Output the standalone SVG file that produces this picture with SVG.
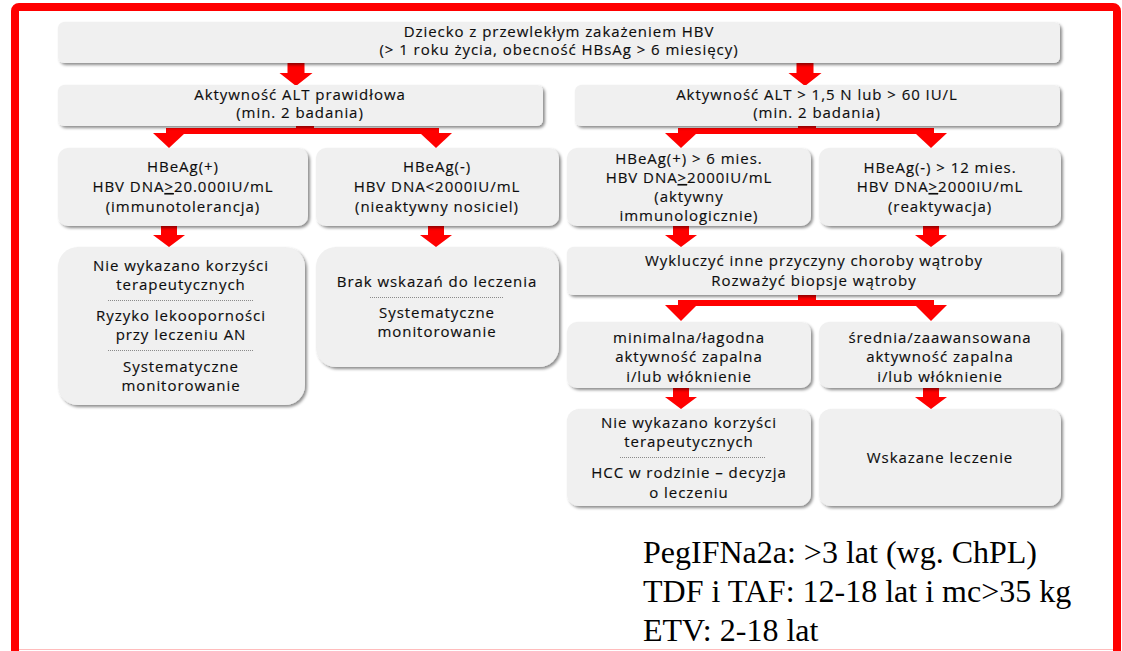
<svg xmlns="http://www.w3.org/2000/svg" width="1122" height="651" viewBox="0 0 1122 651">
<defs>
<filter id="sh" x="-5%" y="-10%" width="112%" height="130%">
<feDropShadow dx="2" dy="2" stdDeviation="1.5" flood-color="#000" flood-opacity="0.45"/>
</filter>
</defs>
<style>
.box{fill:#f0f0f0;filter:url(#sh)}
.t{font-family:"Open Sans",sans-serif;font-size:15px;letter-spacing:0.95px;fill:#0d0d0d;text-anchor:middle;stroke:#0d0d0d;stroke-width:0.15px}
.ar{fill:#ff0000}
.sep{stroke:#8a8a8a;stroke-width:1;stroke-dasharray:1 1}
.note{font-family:"Liberation Serif",serif;font-size:32px;fill:#000}
.u{text-decoration:underline}
</style>
<rect x="0" y="0" width="1122" height="651" fill="#fff"/>
<rect x="15" y="7" width="1102" height="670" rx="4" fill="#fff" stroke="#ff0000" stroke-width="8"/>
<line x1="19" y1="649.5" x2="1113" y2="649.5" stroke="#ffbcbc" stroke-width="1"/>

<g id="connectors">
<path class="ar" d="M287.5,63 H304.5 V73 H312.5 L296,86 L279.5,73 H287.5 Z"/>
<path class="ar" d="M796.5,63 H813.5 V73 H821.5 L805,86 L788.5,73 H796.5 Z"/>
<rect class="ar" x="296" y="126" width="18" height="8"/>
<rect class="ar" x="166" y="128" width="273" height="6"/>
<path class="ar" d="M153,133 H185 L169,148 Z"/>
<path class="ar" d="M420,133 H452 L436,148 Z"/>
<rect class="ar" x="798" y="126" width="18" height="8"/>
<rect class="ar" x="678" y="128" width="256" height="6"/>
<path class="ar" d="M665,133 H697 L681,148 Z"/>
<path class="ar" d="M915,133 H947 L931,148 Z"/>
<path class="ar" d="M161,226 H177 V235 H185 L169,247 L153,235 H161 Z"/>
<path class="ar" d="M428,226 H444 V235 H452 L436,247 L420,235 H428 Z"/>
<path class="ar" d="M673,226 H689 V235 H697 L681,247 L665,235 H673 Z"/>
<path class="ar" d="M923,226 H939 V235 H947 L931,247 L915,235 H923 Z"/>
<rect class="ar" x="798" y="295" width="18" height="8"/>
<rect class="ar" x="678" y="300" width="256" height="6"/>
<path class="ar" d="M665,305 H697 L681,321 Z"/>
<path class="ar" d="M915,305 H947 L931,321 Z"/>
<path class="ar" d="M673,388 H689 V397 H697 L681,409 L665,397 H673 Z"/>
<path class="ar" d="M923,388 H939 V397 H947 L931,409 L915,397 H923 Z"/>
</g>

<g id="n-start">
<rect class="box" x="58" y="22" width="1002" height="41" rx="6"/>
<text class="t" x="559" y="37">Dziecko z przewlekłym zakażeniem HBV</text>
<text class="t" x="559" y="55">(&gt; 1 roku życia, obecność HBsAg &gt; 6 miesięcy)</text>
</g>
<g id="n-alt-normal">
<rect class="box" x="58" y="85" width="485" height="41" rx="6"/>
<text class="t" x="300" y="100">Aktywność ALT prawidłowa</text>
<text class="t" x="300" y="118">(min. 2 badania)</text>
</g>
<g id="n-alt-high">
<rect class="box" x="575" y="85" width="485" height="41" rx="6"/>
<text class="t" x="817" y="100">Aktywność ALT &gt; 1,5 N lub &gt; 60 IU/L</text>
<text class="t" x="817" y="118">(min. 2 badania)</text>
</g>
<g id="n-immunotol">
<rect class="box" x="58" y="148" width="250" height="78" rx="10"/>
<text class="t" x="183" y="172">HBeAg(+)</text>
<text class="t" x="183" y="192">HBV DNA<tspan class="u">&gt;</tspan>20.000IU/mL</text>
<text class="t" x="183" y="212">(immunotolerancja)</text>
</g>
<g id="n-nosiciel">
<rect class="box" x="316" y="148" width="243" height="78" rx="10"/>
<text class="t" x="437" y="172">HBeAg(-)</text>
<text class="t" x="437" y="192">HBV DNA&lt;2000IU/mL</text>
<text class="t" x="437" y="212">(nieaktywny nosiciel)</text>
</g>
<g id="n-aktywny">
<rect class="box" x="567" y="148" width="244" height="78" rx="10"/>
<text class="t" x="689" y="164">HBeAg(+) &gt; 6 mies.</text>
<text class="t" x="689" y="183">HBV DNA<tspan class="u">&gt;</tspan>2000IU/mL</text>
<text class="t" x="689" y="202">(aktywny</text>
<text class="t" x="689" y="221">immunologicznie)</text>
</g>
<g id="n-reaktywacja">
<rect class="box" x="819" y="148" width="242" height="78" rx="10"/>
<text class="t" x="940" y="173">HBeAg(-) &gt; 12 mies.</text>
<text class="t" x="940" y="192">HBV DNA<tspan class="u">&gt;</tspan>2000IU/mL</text>
<text class="t" x="940" y="212">(reaktywacja)</text>
</g>
<g id="n-brak-korzysci-1">
<rect class="box" x="58" y="247" width="247" height="158" rx="20"/>
<text class="t" x="181" y="271">Nie wykazano korzyści</text>
<text class="t" x="181" y="290">terapeutycznych</text>
<line class="sep" x1="108" y1="300.5" x2="253" y2="300.5"/>
<text class="t" x="181" y="321">Ryzyko lekooporności</text>
<text class="t" x="181" y="340">przy leczeniu AN</text>
<line class="sep" x1="108" y1="350.5" x2="253" y2="350.5"/>
<text class="t" x="181" y="372">Systematyczne</text>
<text class="t" x="181" y="391">monitorowanie</text>
</g>
<g id="n-brak-wskazan">
<rect class="box" x="316" y="247" width="243" height="120" rx="20"/>
<text class="t" x="437" y="287">Brak wskazań do leczenia</text>
<line class="sep" x1="370" y1="297.5" x2="503" y2="297.5"/>
<text class="t" x="437" y="318">Systematyczne</text>
<text class="t" x="437" y="337">monitorowanie</text>
</g>
<g id="n-wykluczyc">
<rect class="box" x="567" y="247" width="494" height="48" rx="6"/>
<text class="t" x="814" y="266">Wykluczyć inne przyczyny choroby wątroby</text>
<text class="t" x="814" y="286">Rozważyć biopsje wątroby</text>
</g>
<g id="n-minimalna">
<rect class="box" x="567" y="322" width="244" height="66" rx="10"/>
<text class="t" x="689" y="343">minimalna/łagodna</text>
<text class="t" x="689" y="362">aktywność zapalna</text>
<text class="t" x="689" y="382">i/lub włóknienie</text>
</g>
<g id="n-srednia">
<rect class="box" x="819" y="322" width="242" height="66" rx="10"/>
<text class="t" x="940" y="343">średnia/zaawansowana</text>
<text class="t" x="940" y="362">aktywność zapalna</text>
<text class="t" x="940" y="382">i/lub włóknienie</text>
</g>
<g id="n-brak-korzysci-2">
<rect class="box" x="567" y="409" width="244" height="97" rx="12"/>
<text class="t" x="689" y="428">Nie wykazano korzyści</text>
<text class="t" x="689" y="447">terapeutycznych</text>
<line class="sep" x1="620" y1="457.5" x2="765" y2="457.5"/>
<text class="t" x="689" y="478">HCC w rodzinie – decyzja</text>
<text class="t" x="689" y="498">o leczeniu</text>
</g>
<g id="n-wskazane">
<rect class="box" x="819" y="409" width="242" height="97" rx="12"/>
<text class="t" x="940" y="463">Wskazane leczenie</text>
</g>
<g id="notes">
<text class="note" x="643" y="563">PegIFNa2a: &gt;3 lat (wg. ChPL)</text>
<text class="note" x="643" y="602">TDF i TAF: 12-18 lat i mc&gt;35 kg</text>
<text class="note" x="643" y="641">ETV: 2-18 lat</text>
</g>
</svg>
